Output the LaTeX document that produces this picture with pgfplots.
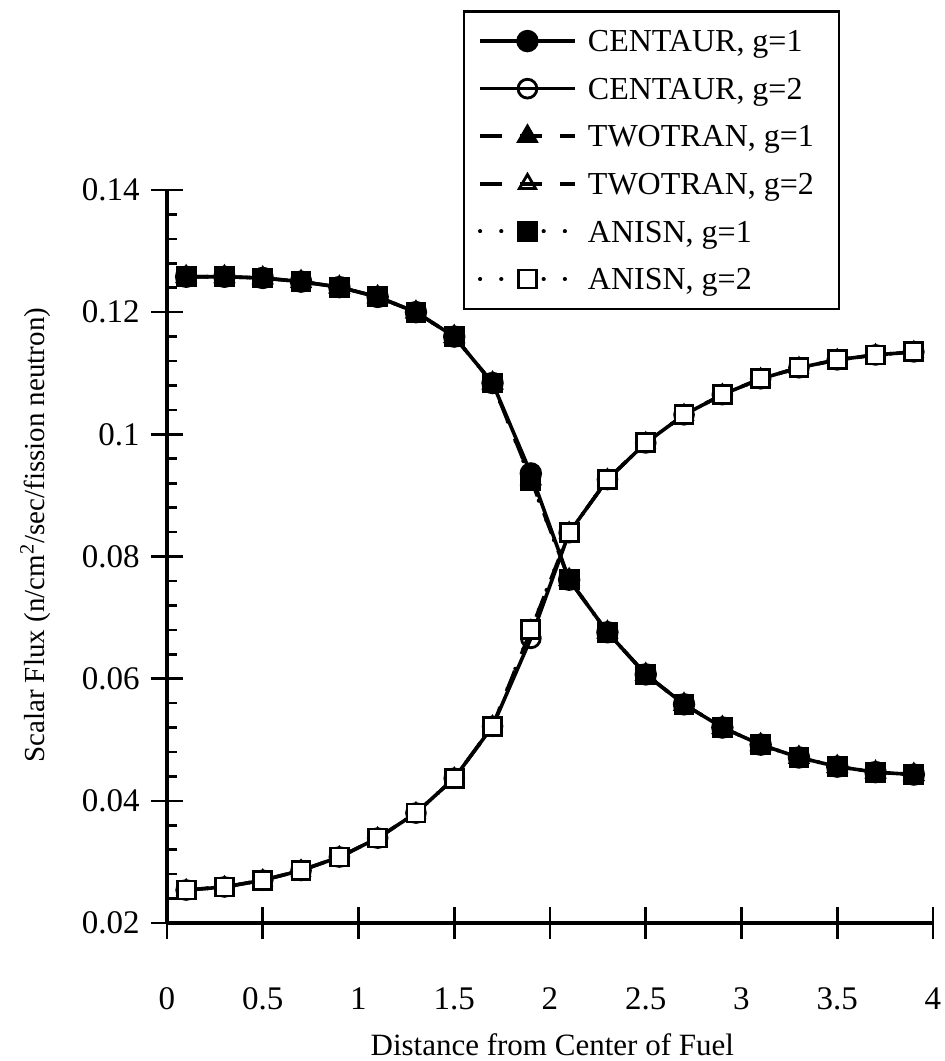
\documentclass[border=0pt]{standalone}
\usepackage{fontspec}
\setmainfont{Liberation Serif}
\usepackage{pgfplots}
\pgfplotsset{compat=1.18}
\usepackage{pgfplotstable}

% distance, group 1 flux, group 2 flux
\pgfplotstableread{
x    g1     g2
0.1  0.1258 0.0254
0.3  0.1258 0.0259
0.5  0.1256 0.0270
0.7  0.1250 0.0286
0.9  0.1241 0.0308
1.1  0.1225 0.0339
1.3  0.1200 0.0380
1.5  0.1160 0.0437
1.7  0.1084 0.0522
1.9  0.0936 0.0666
2.1  0.0762 0.0839
2.3  0.0676 0.0926
2.5  0.0607 0.0986
2.7  0.0558 0.1032
2.9  0.0520 0.1065
3.1  0.0492 0.1091
3.3  0.0471 0.1109
3.5  0.0456 0.1122
3.7  0.0447 0.1130
3.9  0.0443 0.1135
}\centaur

\pgfplotstableread{
x    g1     g2
0.1  0.1258 0.0254
0.3  0.1258 0.0259
0.5  0.1256 0.0270
0.7  0.1250 0.0286
0.9  0.1241 0.0308
1.1  0.1225 0.0339
1.3  0.1200 0.0380
1.5  0.1160 0.0437
1.7  0.1084 0.0522
1.9  0.0927 0.0679
2.1  0.0762 0.0839
2.3  0.0676 0.0926
2.5  0.0607 0.0986
2.7  0.0558 0.1032
2.9  0.0520 0.1065
3.1  0.0492 0.1091
3.3  0.0471 0.1109
3.5  0.0456 0.1122
3.7  0.0447 0.1130
3.9  0.0443 0.1135
}\twotran

\pgfplotstableread{
x    g1     g2
0.1  0.1258 0.0254
0.3  0.1258 0.0259
0.5  0.1256 0.0270
0.7  0.1250 0.0286
0.9  0.1241 0.0308
1.1  0.1225 0.0339
1.3  0.1200 0.0380
1.5  0.1160 0.0437
1.7  0.1084 0.0522
1.9  0.0925 0.0680
2.1  0.0762 0.0839
2.3  0.0676 0.0926
2.5  0.0607 0.0986
2.7  0.0558 0.1032
2.9  0.0520 0.1065
3.1  0.0492 0.1091
3.3  0.0471 0.1109
3.5  0.0456 0.1122
3.7  0.0447 0.1130
3.9  0.0443 0.1135
}\anisn

\begin{document}
\begin{tikzpicture}
\begin{axis}[
    scale only axis,
    width=383pt, height=366.5pt,
    xmin=0, xmax=4,
    ymin=0.02, ymax=0.14,
    clip=false,
    axis x line=bottom, axis y line=left,
    axis line style={-, line width=1.6pt},
    xtick={0,0.5,1,1.5,2,2.5,3,3.5,4},
    xticklabels={0,0.5,1,1.5,2,2.5,3,3.5,4},
    ytick={0.02,0.04,0.06,0.08,0.1,0.12,0.14},
    yticklabels={0.02,0.04,0.06,0.08,0.1,0.12,0.14},
    minor y tick num=4,
    tick align=center,
    major tick length=16pt,
    minor tick length=5pt,
    tick style={black, line width=1.3pt},
    minor tick style={xshift=2.5pt},
    /pgf/number format/assume math mode=true,
    tick label style={font=\fontsize{16.5}{19}\selectfont, inner sep=0pt},
    xticklabel style={anchor=north, yshift=-24pt},
    yticklabel style={anchor=east, xshift=-5.5pt},
    xlabel={Distance from Center of Fuel},
    ylabel={Scalar Flux (n/cm\textsuperscript{2}/sec/fission neutron)},
    xlabel style={at={(rel axis cs:0.503,-0.1664)}, anchor=center, font=\fontsize{15.5}{18}\selectfont},
    ylabel style={at={(rel axis cs:-0.172,0.529)}, anchor=center, font=\fontsize{14.5}{17}\selectfont},
    legend cell align=left,
    legend style={at={(rel axis cs:0.386,1.2456)}, anchor=north west,
        draw=black, line width=1.3pt, inner xsep=7pt, inner ysep=3pt,
        font=\fontsize{16}{19}\selectfont, row sep=0pt,
        nodes={inner xsep=5.5pt, inner ysep=0pt, text height=17.2pt, text depth=6.6pt}},
    legend image code/.code={
        \draw[mark repeat=2, mark phase=2, #1]
            plot coordinates {(0pt,0pt) (23.75pt,0pt) (47.5pt,0pt)};
    },
]
\coordinate (sw) at (rel axis cs:0,0);
\coordinate (ne) at (rel axis cs:1,1);

\addplot[black, line width=1.8pt, mark=*, mark size=4.7pt,
    mark options={solid, fill=black}] table[x=x, y=g1] {\centaur};
\addlegendentry{CENTAUR, g=1}
\addplot[black, line width=1.8pt, mark=o, mark size=4.7pt,
    mark options={solid, line width=1.4pt}] table[x=x, y=g2] {\centaur};
\addlegendentry{CENTAUR, g=2}
\addplot[black, line width=1.8pt, dash pattern=on 11pt off 9pt,
    mark=triangle*, mark size=4.7pt,
    mark options={solid, fill=black}] table[x=x, y=g1] {\twotran};
\addlegendentry{TWOTRAN, g=1}
\addplot[black, line width=1.8pt, dash pattern=on 11pt off 9pt,
    mark=triangle, mark size=4.7pt,
    mark options={solid, line width=1.4pt}] table[x=x, y=g2] {\twotran};
\addlegendentry{TWOTRAN, g=2}
\addplot[black, line width=2pt, line cap=round, dash pattern=on 0.1pt off 10.5pt,
    mark=square*, mark size=4.5pt,
    mark options={solid, fill=black, line width=1.4pt}] table[x=x, y=g1] {\anisn};
\addlegendentry{ANISN, g=1}
\addplot[black, line width=2pt, line cap=round, dash pattern=on 0.1pt off 10.5pt,
    mark=square*, mark size=4.5pt,
    mark options={solid, fill=white, line width=1.4pt}] table[x=x, y=g2] {\anisn};
\addlegendentry{ANISN, g=2}
\end{axis}
\pgfresetboundingbox
\useasboundingbox ([shift={(-83.5pt,-69pt)}]sw) rectangle ([shift={(6pt,95pt)}]ne);
\end{tikzpicture}
\end{document}
